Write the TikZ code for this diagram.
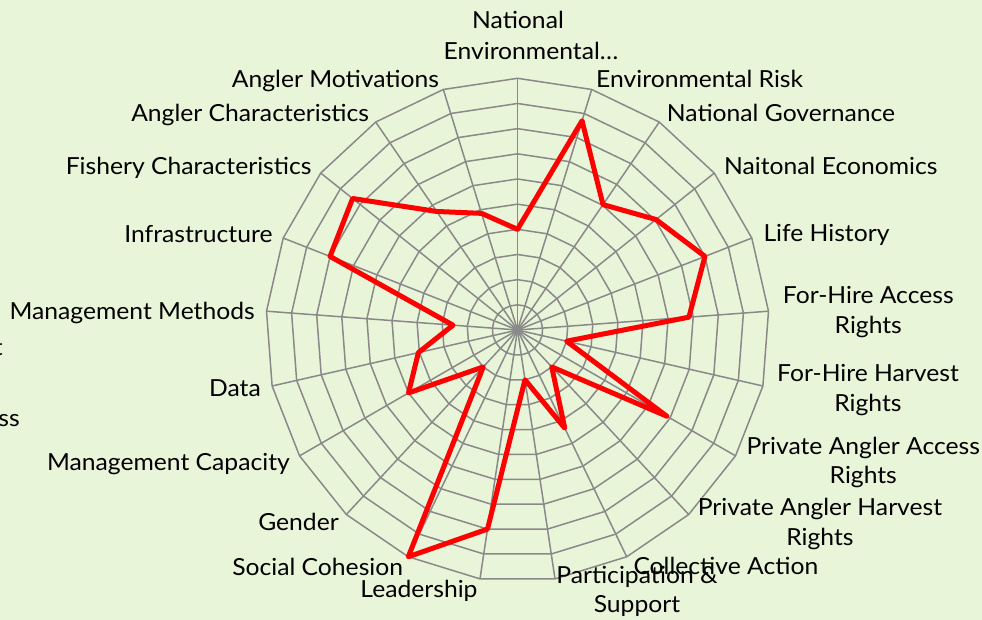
\documentclass[tikz,border=0pt]{standalone}
\usepackage{fontspec}
\setmainfont{Lato}[FakeStretch=1.05]
\definecolor{bgcol}{HTML}{E9F5D9}
\definecolor{gridcol}{HTML}{898989}
\definecolor{datacol}{HTML}{FF0000}
\begin{document}
\begin{tikzpicture}[x=1pt,y=-1pt,
  gridline/.style={draw=gridcol,line width=1.5pt},
  dataline/.style={draw=datacol,line width=5pt,line join=round},
  lab/.style={inner sep=0pt,font=\fontsize{23.5}{28}\selectfont,text=black}]
\useasboundingbox (0,0) rectangle (982,620);
\fill[bgcol] (0,0) rectangle (982,620);
\clip (0,0) rectangle (982,620);
\def\cx{517.5}
\def\cy{330}
\def\rs{25.17}
\coordinate (C) at (\cx,\cy);
% spokes
\foreach \i in {0,...,20}{
  \coordinate (ax\i) at ({\cx+10*\rs*sin(\i*360/21)},{\cy-10*\rs*cos(\i*360/21)});
  \draw[gridline] (C) -- (ax\i);
}
% rings
\foreach \k in {1,...,10}{
  \draw[gridline] ({\cx},{\cy-\k*\rs})
    \foreach \i in {1,...,20}{ -- ({\cx+\k*\rs*sin(\i*360/21)},{\cy-\k*\rs*cos(\i*360/21)}) } -- cycle;
}
% data
\draw[dataline] ({\cx},{\cy-4*\rs})
  \foreach \i/\v in {1/8.7,2/6.03,3/7.04,4/8.0,5/6.83,6/2.0,7/6.85,8/2.0,9/4.33,10/2.0,11/8.0,12/10.0,13/2.0,14/5.0,15/4.04,16/2.57,17/8.0,18/8.38,19/5.7,20/4.85}{
    -- ({\cx+\v*\rs*sin(\i*360/21)},{\cy-\v*\rs*cos(\i*360/21)}) } -- cycle;
% labels
\node[lab,anchor=base] (l0a) at (518,28.3) {National};
\node[lab,anchor=base] (l0b) at (531,60) {Environmental…};
\node[lab,anchor=base west] (l1) at (596,87.3) {Environmental Risk};
\node[lab,anchor=base west] (l2) at (666.7,121.7) {National Governance};
\node[lab,anchor=base west] (l3) at (724,175) {Naitonal Economics};
\node[lab,anchor=base west] (l4) at (763.3,242) {Life History};
\node[lab,anchor=base] (l5a) at (868.3,303.3) {For-Hire Access};
\node[lab,anchor=base] (l5b) at (868.3,333.3) {Rights};
\node[lab,anchor=base] (l6a) at (868,381.7) {For-Hire Harvest};
\node[lab,anchor=base] (l6b) at (868,411.7) {Rights};
\node[lab,anchor=base] (l7a) at (863.3,454.3) {Private Angler Access};
\node[lab,anchor=base] (l7b) at (863.3,483.3) {Rights};
\node[lab,anchor=base] (l8a) at (820,515) {Private Angler Harvest};
\node[lab,anchor=base] (l8b) at (820,545) {Rights};
\node[lab,anchor=base west] (l9) at (633.3,574.3) {Collective Action};
\node[lab,anchor=base] (l10a) at (637,583.3) {Participation \&};
\node[lab,anchor=base] (l10b) at (637,612.7) {Support};
\node[lab,anchor=base east] (l11) at (477.7,597.3) {Leadership};
\node[lab,anchor=base east] (l12) at (403.3,575) {Social Cohesion};
\node[lab,anchor=base east] (l13) at (339,530.7) {Gender};
\node[lab,anchor=base east] (l14) at (290,470) {Management Capacity};
\node[lab,anchor=base east] (l15) at (261,396.7) {Data};
\node[lab,anchor=base east] (l16) at (255,319.3) {Management Methods};
\node[lab,anchor=base east] (l17) at (272.7,242.7) {Infrastructure};
\node[lab,anchor=base east] (l18) at (311.7,175) {Fishery Characteristics};
\node[lab,anchor=base east] (l19) at (369.3,121.7) {Angler Characteristics};
\node[lab,anchor=base east] (l20) at (439.3,87.3) {Angler Motivations};
% clipped fragments at left edge
\node[lab,anchor=base east] (fragA) at (3,355) {t};
\node[lab,anchor=base east] (fragB) at (20,426.7) {ss};
\end{tikzpicture}
\end{document}
